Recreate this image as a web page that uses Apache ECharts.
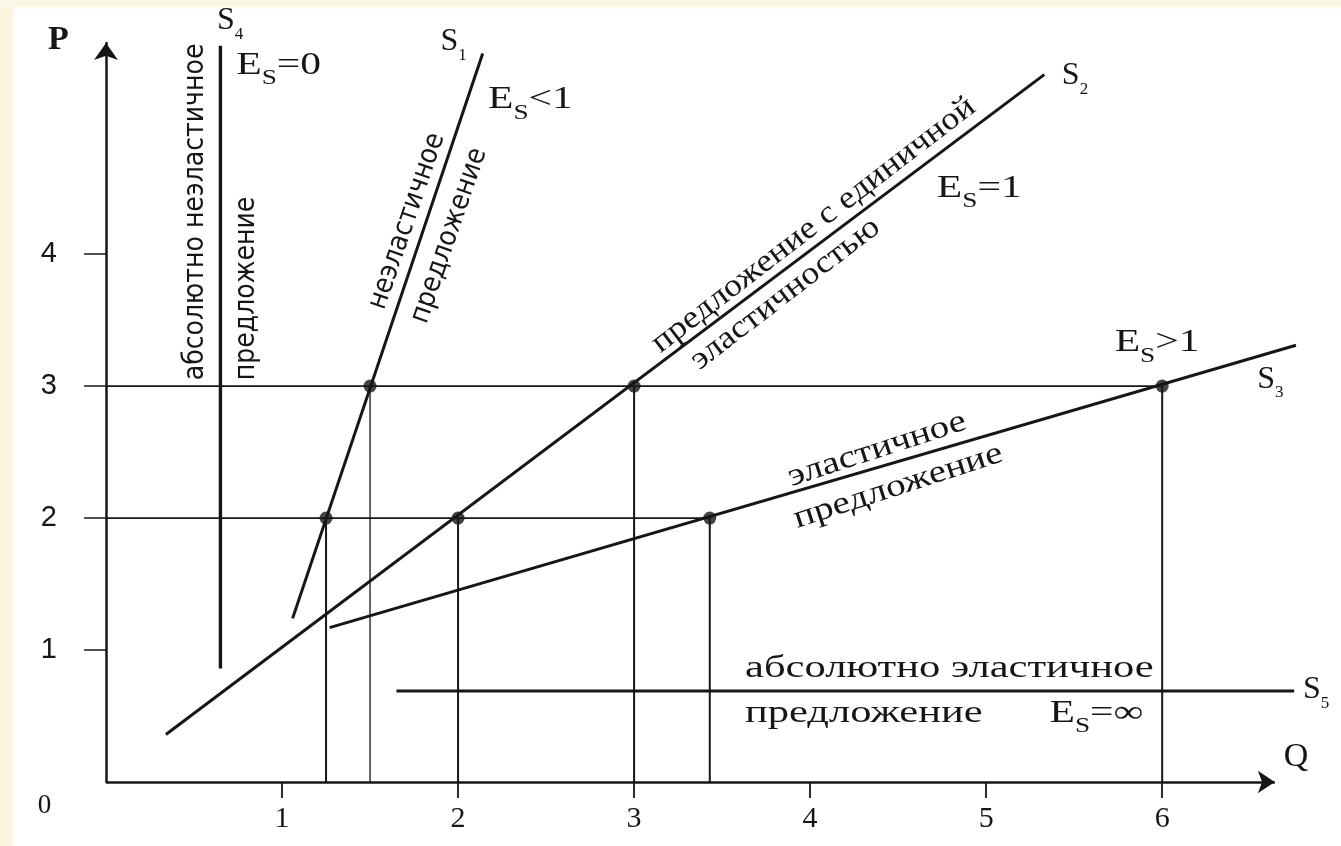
<!DOCTYPE html>
<html><head><meta charset="utf-8">
<script src="https://cdn.jsdelivr.net/npm/echarts@6/dist/echarts.min.js"></script>
<style>html,body{margin:0;padding:0;background:#fff}#c{width:1341px;height:846px}</style>
</head><body><div id="c"></div>
<script>
// ---- data (Q, P coordinates) ----
const xTicks = [1, 2, 3, 4, 5, 6];
const yTicks = [1, 2, 3, 4];
const xAxisEnd = 6.64;
const S1 = [[1.06, 1.24], [2.14, 5.52]];
const S2 = [[0.34, 0.36], [5.33, 5.36]];
const S3 = [[1.27, 1.17], [6.76, 3.31]];
const S4 = [[0.65, 0.86], [0.65, 5.58]];
const S5 = [[1.65, 0.69], [6.75, 0.69]];
const guideH = [[[0, 3], [6, 3]], [[0, 2], [3.43, 2]]];
const guideV = [[[1.25, 0], [1.25, 2]], [[2, 0], [2, 2]], [[3, 0], [3, 3]], [[3.43, 0], [3.43, 2]], [[6, 0], [6, 3]]];
const guideVThin = [[[1.5, 0], [1.5, 3]]];
const points = [[1.25, 2], [1.5, 3], [2, 2], [3, 3], [3.43, 2], [6, 3]];
// curve names: letter, index, x(left), y(middle)
const curveNames = [['S', '4', 0.63, 5.77], ['S', '1', 1.90, 5.61], ['S', '2', 5.43, 5.35], ['S', '3', 6.54, 3.05], ['S', '5', 6.80, 0.70]];
// elasticity labels: relation, x(left), y(middle)
const esLabels = [['=0', 0.74, 5.43], ['<1', 2.17, 5.17], ['=1', 4.72, 4.50], ['>1', 5.73, 3.33], ['=∞', 5.36, 0.52]];
// rotated sans captions: text, x, y, angle
const sansCaptions = [
  ['абсолютно неэластичное', 0.51, 4.32, 90],
  ['предложение', 0.80, 3.74, 90],
  ['неэластичное', 1.71, 4.25, 71],
  ['предложение', 1.95, 4.14, 71]
];
// rotated serif captions: text, x, y, angle
const serifCaptions = [
  ['предложение с единичной', 4.02, 4.22, 37.5],
  ['эластичностью', 3.86, 3.70, 37.5],
  ['эластичное', 4.38, 2.52, 18],
  ['предложение', 4.50, 2.24, 18]
];
const flatCaptions = [['абсолютно эластичное', 3.63, 0.86], ['предложение', 3.63, 0.52]];
const axisNames = [['P', -0.27, 5.62], ['Q', 6.76, 0.19], ['0', -0.35, -0.18]];

const INK = '#161616';
const SERIF = '"Liberation Serif","Times New Roman",serif';
const NARROW = '"Liberation Sans Narrow","DejaVu Sans Condensed","Liberation Sans",sans-serif';
const SANS = '"Liberation Sans",Arial,sans-serif';

function lineSeries(data, w) {
  return { type: 'line', data: data, symbol: 'none', clip: false, silent: true,
    lineStyle: { color: INK, width: w }, z: 3 };
}
const series = [];
[S1, S2, S3, S5].forEach(s => series.push(lineSeries(s, 3)));
series.push(lineSeries(S4, 3.4));
guideH.forEach(s => series.push(lineSeries(s, 1.8)));
guideV.forEach(s => series.push(lineSeries(s, 2)));
guideVThin.forEach(s => series.push(lineSeries(s, 1.3)));
series.push({ type: 'scatter', data: points, symbol: 'circle', symbolSize: 13,
  itemStyle: { color: INK }, z: 5, silent: true,
  markLine: { silent: true, symbol: ['none', 'arrow'], symbolSize: 17, animation: false,
    lineStyle: { color: INK, width: 2.5, type: 'solid' }, label: { show: false },
    data: [[{ coord: [0, 0] }, { coord: [xAxisEnd, 0] }]] } });

const chart = echarts.init(document.getElementById('c'));
chart.setOption({
  backgroundColor: '#ffffff',
  animation: false,
  grid: { left: 106, right: 38, top: 43, bottom: 64 },
  xAxis: {
    type: 'value', min: 0, max: 6.8, interval: 1,
    splitLine: { show: false },
    axisLine: { show: false },
    axisTick: { show: true, length: 16, lineStyle: { color: INK, width: 1.8 }, customValues: xTicks },
    axisLabel: { customValues: xTicks, margin: 22, fontSize: 30, fontFamily: SERIF, color: INK }
  },
  yAxis: {
    type: 'value', min: 0, max: 5.6, interval: 1,
    splitLine: { show: false },
    axisLine: { lineStyle: { color: INK, width: 2.5 }, symbol: ['none', 'arrow'], symbolSize: [18, 17] },
    axisTick: { show: true, length: 22, lineStyle: { color: INK, width: 1.5 }, customValues: yTicks },
    axisLabel: { customValues: yTicks, margin: 49, fontSize: 29, fontFamily: SANS, color: INK }
  },
  series: series
});

// ---- text annotations placed through the chart's own coordinate conversion ----
function px(x, y) { return chart.convertToPixel({ gridIndex: 0 }, [x, y]); }
const g = [
  { type: 'rect', left: 0, top: 0, shape: { width: 13, height: 846 }, style: { fill: '#fbf5df' }, z: -10, silent: true },
  { type: 'rect', left: 0, top: 0, shape: { width: 1341, height: 7 }, style: { fill: '#fcf8e8' }, z: -10, silent: true }
];
curveNames.forEach(c => {
  const p = px(c[2], c[3]);
  g.push({ type: 'text', x: p[0], y: p[1], z: 20, silent: true, style: {
    text: '{a|' + c[0] + '}{b|' + c[1] + '}', align: 'left', verticalAlign: 'middle', fill: INK,
    rich: { a: { fontSize: 32, fontFamily: SERIF, fill: INK, lineHeight: 44 },
            b: { fontSize: 17, fontFamily: SERIF, fill: INK, verticalAlign: 'bottom', lineHeight: 20 } } } });
});
esLabels.forEach(c => {
  const p = px(c[1], c[2]);
  g.push({ type: 'text', x: p[0], y: p[1], scaleX: 1.3, z: 20, silent: true, style: {
    text: '{a|E}{b|S}{a|' + c[0] + '}', align: 'left', verticalAlign: 'middle', fill: INK,
    rich: { a: { fontSize: 32, fontFamily: SERIF, fill: INK, lineHeight: 48 },
            b: { fontSize: 21, fontFamily: SERIF, fill: INK, verticalAlign: 'bottom', lineHeight: 22 } } } });
});
sansCaptions.forEach(c => {
  const p = px(c[1], c[2]);
  g.push({ type: 'text', x: p[0], y: p[1], rotation: c[3] * Math.PI / 180, z: 20, silent: true, style: {
    text: c[0], align: 'center', verticalAlign: 'middle', fontSize: 28, fontFamily: NARROW, fill: INK } });
});
serifCaptions.forEach(c => {
  const p = px(c[1], c[2]);
  g.push({ type: 'text', x: p[0], y: p[1], rotation: c[3] * Math.PI / 180, scaleX: c[3] < 30 ? 1.22 : 1.12, z: 20, silent: true, style: {
    text: c[0], align: 'center', verticalAlign: 'middle', fontSize: 32, fontFamily: SERIF, fill: INK } });
});
flatCaptions.forEach(c => {
  const p = px(c[1], c[2]);
  g.push({ type: 'text', x: p[0], y: p[1], scaleX: 1.33, z: 20, silent: true, style: {
    text: c[0], align: 'left', verticalAlign: 'middle', fontSize: 32, fontFamily: SERIF, fill: INK } });
});
axisNames.forEach(c => {
  const p = px(c[1], c[2]);
  g.push({ type: 'text', x: p[0], y: p[1], z: 20, silent: true, style: {
    text: c[0], align: 'center', verticalAlign: 'middle', fill: INK,
    fontSize: c[0] === '0' ? 27 : 34, fontWeight: c[0] === 'P' ? 'bold' : 'normal', fontFamily: SERIF } });
});
chart.setOption({ graphic: g });
</script></body></html>
